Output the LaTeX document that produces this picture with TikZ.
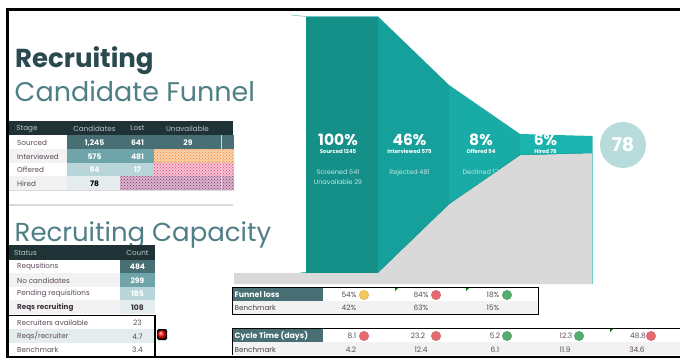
\documentclass[tikz,border=0pt]{standalone}
\usepackage{fontspec}
\setmainfont{Poppins}
\usetikzlibrary{patterns}
\definecolor{hdr}{HTML}{1F3337}
\definecolor{tA}{HTML}{476F74}
\definecolor{tB}{HTML}{6FA4A8}
\definecolor{tC}{HTML}{B8D6D9}
\definecolor{tD}{HTML}{E4ECEE}
\definecolor{rowg}{HTML}{F2F2F2}
\definecolor{lab}{HTML}{5B4A5A}
\definecolor{hdt}{HTML}{B9C6C8}
\definecolor{fA}{HTML}{149088}
\definecolor{fB}{HTML}{15A09C}
\definecolor{fC}{HTML}{19ABA5}
\definecolor{fD}{HTML}{1BB3AD}
\definecolor{gry}{HTML}{D9D9D9}
\definecolor{tt}{HTML}{2B4A50}
\definecolor{ts}{HTML}{4F7F86}
\definecolor{lr}{HTML}{E5696D}
\definecolor{lg}{HTML}{52AE6B}
\definecolor{ly}{HTML}{F4C75A}
\definecolor{circ}{HTML}{B8DCDC}
\definecolor{po}{HTML}{F08A30}
\definecolor{pp}{HTML}{E0487A}
\definecolor{pv}{HTML}{8A2C6A}
\tikzset{
 lbl/.style={inner sep=0pt,text=lab,font=\fontsize{7.2}{8}\selectfont,anchor=west},
 hd/.style={inner sep=0pt,text=hdt,font=\fontsize{7.2}{8}\selectfont},
 num/.style={inner sep=0pt,text=white,font=\fontsize{7.6}{8}\selectfont\bfseries},
 dnum/.style={inner sep=0pt,text=lab,font=\fontsize{7.4}{8}\selectfont},
 big/.style={inner sep=0pt,anchor=base,text=white,font=\fontsize{15.5}{16}\selectfont\bfseries},
 sm/.style={inner sep=0pt,anchor=base,text=white,font=\fontsize{5.4}{6}\selectfont\bfseries},
 lt/.style={inner sep=0pt,text=white!75!fB,font=\fontsize{6.5}{7}\selectfont},
 led/.style={circle,inner sep=0pt,minimum size=9.5pt,draw=#1!85!black,line width=.3pt,fill=#1},
 tick/.style={fill=green!50!black},
 frame/.style={draw=black,line width=1.3pt},
}
\begin{document}
\begin{tikzpicture}[x=1pt,y=-1pt]
\useasboundingbox (0,0) rectangle (680,358);
\fill[white] (0,0) rectangle (680,358);
% funnel
\fill[fA] (306,16.5)--(378,16.5)--(378,272.5)--(306,272.5)--cycle;
\fill[fB] (378,16.5)--(449,85)--(449,204)--(378,272.5)--cycle;
\fill[fC] (449,85)--(520,134)--(520,155)--(449,204)--cycle;
\fill[fD] (520,134)--(592,136)--(592,153)--(520,155)--cycle;
\draw[fB!60!white,line width=.6pt] (291,15)--(306,16.5)--(378,16.5);
\draw[fB,line width=.6pt] (300,273)--(306,272.5);
% funnel texts
\node[big] (p1) at (338,146) {100\%};
\node[sm] (s1) at (338,153.5) {Sourced 1245};
\node[lt] (l1a) at (338,172.5) {Screened 641};
\node[lt] (l1b) at (338,182) {Unavailable 29};
\node[big] (p2) at (409.5,146) {46\%};
\node[sm] (s2) at (409.5,153.5) {Interviewed 575};
\node[lt] (l2) at (409.5,172.5) {Rejected 481};
\node[big] (p3) at (481,146) {8\%};
\node[sm] (s3) at (481,153.5) {Offered 94};
\node[lt] (l3) at (480.5,172.5) {Declined 17};
\node[big] (p4) at (545.5,146) {6\%};
\node[sm] (s4) at (545.5,153.5) {Hired 78};
% grey area
\fill[gry] (234,273)--(378,273)--(449,204.5)--(520,155.5)--(592,153.5)--(592,284)--(234,284)--cycle;
\draw[fC!60!white,line width=.4pt] (592,136)--(592,284);
\draw[fA,line width=.5pt] (378,272.5)--(449,204)--(520,155)--(592,153);
% circle
\node[circle,fill=circ,minimum size=46pt,inner sep=0pt,text=white,font=\fontsize{19}{20}\selectfont\bfseries] (c78) at (623,145) {78};
% titles
\node[inner sep=0pt,anchor=base west,text=tt,font=\fontsize{26}{30}\selectfont\bfseries] (t1) at (15,68) {Recruiting};
\node[inner sep=0pt,anchor=base west,text=ts,font=\fontsize{27}{30}\selectfont] (t2) at (14.5,102) {Candidate Funnel};
\node[inner sep=0pt,anchor=base west,text=ts,font=\fontsize{26}{30}\selectfont] (t3) at (14.5,241) {Recruiting Capacity};
% table 1
\fill[hdr] (9,121) rectangle (233,135);
\fill[tA] (67,135) rectangle (234,149);
\fill[rowg] (9,149) rectangle (67,163);
\fill[tB] (67,149) rectangle (154,163);
\fill[tC] (67,163) rectangle (154,176);
\fill[rowg] (9,176) rectangle (67,190);
\fill[tD] (67,176) rectangle (120,190);
\fill[po!40!white] (154,149) rectangle (234,163);
\fill[pp!35!white] (154,163) rectangle (234,176);
\fill[pv!35!white] (120,176) rectangle (234,191);
\fill[pattern=crosshatch dots,pattern color=po] (154,149) rectangle (234,163);
\fill[pattern=crosshatch dots,pattern color=pp] (154,163) rectangle (234,176);
\fill[pattern=crosshatch dots,pattern color=pv] (120,176) rectangle (234,191);
\fill[gry] (9,190) rectangle (234,191);
\fill[gry] (220.5,135) rectangle (221.5,191);
\fill[gry] (9,204) rectangle (233,206);
\node[hd] (h1) at (27,128.5) {Stage};
\node[hd] (h2) at (94.5,128.5) {Candidates};
\node[hd] (h3) at (137.5,128.5) {Lost};
\node[hd] (h4) at (187.5,128.5) {Unavailable};
\node[lbl] (a1) at (17,142.5) {Sourced};
\node[lbl] (a2) at (17,156.5) {Interviewed};
\node[lbl] (a3) at (17,169.5) {Offered};
\node[lbl] (a4) at (17,183.5) {Hired};
\node[num] (b1) at (94.5,143) {1,245};
\node[num] (b2) at (94.5,157) {575};
\node[num] (b3) at (94.5,170) {94};
\node[num,text=black] (b4) at (94.5,184) {78};
\node[num] (c1) at (137.5,143) {641};
\node[num] (c2) at (137.5,157) {481};
\node[num] (c3) at (137.5,170) {17};
\node[num] (d1) at (188,143) {29};
% table 2
\fill[hdr] (9,245) rectangle (155,260);
\fill[tA] (120,260) rectangle (155,273);
\fill[rowg] (9,273) rectangle (120,287);
\fill[tB] (120,273) rectangle (155,287);
\fill[tC] (120,287) rectangle (155,300);
\fill[rowg] (9,300) rectangle (120,314);
\fill[tD] (120,300) rectangle (155,314);
\fill[tD] (9,329) rectangle (155,343);
\node[hd] (h5) at (25.5,252.5) {Status};
\node[hd] (h6) at (137.5,252.5) {Count};
\node[lbl] (r1) at (17,266.5) {Requsitions};
\node[lbl] (r2) at (17,280.5) {No candidates};
\node[lbl] (r3) at (17,293.5) {Pending requisitions};
\node[lbl,font=\fontsize{7.2}{8}\selectfont\bfseries,text=lab!70!black] (r4) at (17,308) {Reqs recruiting};
\node[lbl] (r5) at (17,323) {Recruiters available};
\node[lbl] (r6) at (17,336.5) {Reqs/recruiter};
\node[lbl] (r7) at (17,350) {Benchmark};
\node[num] (n1) at (137.5,267) {484};
\node[num] (n2) at (137.5,281) {299};
\node[num] (n3) at (137.5,294) {185};
\node[num,text=lab!70!black] (n4) at (137.5,308) {108};
\node[dnum] (n5) at (137.5,323) {23};
\node[dnum] (n6) at (137.5,336.5) {4.7};
\node[dnum] (n7) at (137.5,350) {3.4};
\draw[frame] (9,315.5) -- (155,315.5) -- (155,356);
\node[rounded corners=1.5pt,fill=black,minimum width=10pt,minimum height=11pt,inner sep=0pt] (ledbox) at (162,334.5) {};
\node[circle,inner sep=0pt,minimum size=9pt,shading=ball,ball color=red!95!white] (ledball) at (ledbox) {};
% funnel loss table
\fill[rowg] (233,301) rectangle (539,314);
\fill[tA] (233,288) rectangle (323,301);
\node[inner sep=0pt,anchor=west,text=white,font=\fontsize{7.8}{8}\selectfont\bfseries] (f0) at (234.5,295) {Funnel loss};
\node[lbl,text=lab!80!black] (f1) at (234.5,308) {Benchmark};
\node[dnum] (g1) at (349,295) {54\%};
\node[led=ly] (gl1) at (364,295) {};
\node[dnum] (g2) at (421,295) {84\%};
\node[led=lr] (gl2) at (436,295) {};
\node[dnum] (g3) at (493,295) {18\%};
\node[led=lg] (gl3) at (507,295) {};
\node[dnum] (g4) at (349,308) {42\%};
\node[dnum] (g5) at (421,308) {63\%};
\node[dnum] (g6) at (493,308) {15\%};
\draw[draw=black,line width=1pt] (232.5,287.5) rectangle (538.5,314.5);
% cycle table
\fill[rowg] (233,342) rectangle (680,355);
\fill[tA] (233,329) rectangle (323,342);
\node[inner sep=0pt,anchor=west,text=white,font=\fontsize{7.8}{8}\selectfont\bfseries] (e0) at (234.5,336) {Cycle Time (days)};
\node[lbl,text=lab!80!black] (e1) at (234.5,350) {Benchmark};
\node[dnum] (v1) at (352,336) {8.1};
\node[led=lr] (vl1) at (364,336) {};
\node[dnum] (v2) at (418,336) {23.2};
\node[led=lr] (vl2) at (436,336) {};
\node[dnum] (v3) at (495,336) {5.2};
\node[led=lg] (vl3) at (507,336) {};
\node[dnum] (v4) at (566,336) {12.3};
\node[led=lg] (vl4) at (579,336) {};
\node[dnum] (v5) at (638,336) {48.8};
\node[led=lr] (vl5) at (651,336) {};
\node[dnum] (w1) at (351,350) {4.2};
\node[dnum] (w2) at (421,350) {12.4};
\node[dnum] (w3) at (495,350) {6.1};
\node[dnum] (w4) at (565,350) {11.9};
\node[dnum] (w5) at (637,350) {34.6};
\draw[draw=black,line width=1pt] (680,328.5) -- (232.5,328.5) -- (232.5,355);
% comment ticks
\fill[tick] (395,288)--(398,288)--(395,291)--cycle;
\fill[tick] (466,288)--(469,288)--(466,291)--cycle;
\fill[tick] (610,329)--(613,329)--(610,332)--cycle;
% outer frame
\fill[black] (6,8) rectangle (680,11);
\fill[black] (6,8) rectangle (9,358);
\fill[black] (9,355.5) rectangle (680,358);
\end{tikzpicture}
\end{document}
